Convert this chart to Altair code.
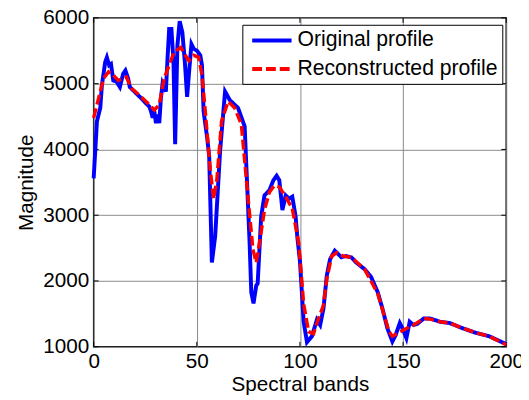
import altair as alt
import pandas as pd

# ---- data ----
orig_band = [0, 1.6, 3.2, 4, 5.6, 6.4, 7.5, 8.4, 9.5, 11.1, 12.7, 14.3, 15.4, 16.7, 17.5,
             20.7, 23, 25.4, 27, 27.8, 28.6, 29.4, 30.2, 31, 31.8, 32.6, 33.4, 35, 35.8,
             36.6, 37.7, 38.7, 39.5, 40.6, 41.7, 43, 44.2, 45.3, 46.4, 47.4, 48.5, 50.1,
             51.7, 52.5, 53.3, 55, 56, 57.3, 58.9, 61.3, 63.7, 66, 70, 73.2, 75.6, 76.4,
             77.5, 78.8, 79.5, 81.2, 82.8, 85.2, 87.1, 88.7, 90, 91.5, 93.1, 94.7, 96.3,
             97.9, 98.7, 100, 101.8, 103.4, 105.8, 108.2, 109.8, 111.4, 113, 114.6, 116.9,
             118.5, 120.1, 122.5, 124.9, 127.3, 131.3, 134.5, 137.7, 140, 142.4, 144.8,
             146.4, 148.4, 150, 151.6, 153.2, 155.1, 157, 160, 163.1, 167.9, 172.6, 179,
             185.4, 191.7, 200]
orig_val = [3560, 4430, 4630, 4980, 5330, 5400, 5280, 5300, 5050, 5030, 4950, 5150, 5200, 5080, 4950,
            4850, 4780, 4700, 4650, 4580, 4480, 4580, 4400, 4530, 4400, 4780, 5000, 4880, 5380,
            5830, 5830, 5330, 4080, 5580, 5950, 5780, 5330, 4800, 5230, 5600, 5530, 5500,
            5430, 5280, 4580, 4180, 3900, 2280, 2680, 3980, 4880, 4750, 4630, 4350, 2580, 1830,
            1660, 1930, 1960, 2980, 3300, 3380, 3530, 3600, 3530, 3080, 3300, 3250, 3280,
            2980, 2680, 2300, 1380, 1070, 1160, 1410, 1330, 1580, 2080, 2330, 2460,
            2410, 2360, 2380, 2360, 2280, 2180, 2060, 1830, 1580, 1280, 1080,
            1180, 1360, 1260, 1130, 1380, 1330, 1350, 1430, 1430, 1380, 1360, 1280,
            1210, 1160, 1040]

recon_band = [0, 2.4, 4.8, 7.2, 9.5, 11.9, 14.3, 15.9, 18.3, 23, 27, 29.4, 31.8, 34.2, 36.6,
              39, 42.2, 44.5, 46.1, 48.5, 50.9, 52.5, 54.1, 56.5, 58.1, 59.7, 62, 65.2, 68.4,
              71.6, 74.8, 77.2, 78.8, 80.4, 82.8, 85.2, 87.5, 90, 93.1, 96.3, 99.4, 101.8,
              104.2, 106.6, 109, 111.4, 113, 115.4, 117.8, 120.9, 124.9, 131.3, 137.7, 140.8,
              143.2, 144.8, 147.2, 150.4, 155.1, 160, 163.1, 167.9, 172.6, 179, 185.4, 191.7, 200]
recon_val = [4480, 4780, 5080, 5180, 5130, 5050, 5080, 5100, 4930, 4800, 4680, 4600, 4680, 5080, 5280,
             5480, 5550, 5430, 5350, 5430, 5400, 5130, 4580, 3700, 3250, 3530, 4430, 4730, 4630,
             4380, 3280, 2480, 2280, 2580, 3080, 3350, 3450, 3430, 3280, 3100, 2580, 1650,
             1230, 1200, 1430, 1630, 2030, 2380, 2430, 2380, 2360, 2180, 1810, 1480,
             1230, 1160, 1200, 1260, 1330, 1430, 1420, 1380, 1360, 1280, 1210, 1160, 1030]

series_names = ["Original profile", "Reconstructed profile"]
x_ticks = [0, 50, 100, 150, 200]
y_ticks = [1000, 2000, 3000, 4000, 5000, 6000]

df = pd.concat([
    pd.DataFrame({"band": orig_band, "value": orig_val, "series": series_names[0]}),
    pd.DataFrame({"band": recon_band, "value": recon_val, "series": series_names[1]}),
], ignore_index=True)

W, H = 419, 334
FONT = "Liberation Sans"

xscale = alt.Scale(domain=[0, 200], nice=False, zero=False)
yscale = alt.Scale(domain=[1000, 6000], nice=False, zero=False)

leg = alt.Legend(orient="none", legendX=151, legendY=7, title=None,
                 fillColor="white", strokeColor="black", padding=4,
                 symbolType="M-2,0L2,0", symbolSize=400, symbolStrokeWidth=4,
                 labelFontSize=21.5, labelFont=FONT, labelColor="black",
                 rowPadding=6, labelOffset=14, symbolOffset=14, labelLimit=400)

enc = dict(
    x=alt.X("band:Q", scale=xscale,
            axis=alt.Axis(values=x_ticks, format="d", title="Spectral bands", grid=True, domain=False,
                          ticks=False, labelFlush=False, labelPadding=4, titlePadding=2)),
    y=alt.Y("value:Q", scale=yscale,
            axis=alt.Axis(values=y_ticks, format="d", title="Magnitude", grid=True, domain=False,
                          ticks=False, labelPadding=5, titlePadding=6)),
    color=alt.Color("series:N", scale=alt.Scale(domain=series_names, range=["#0000ff", "#ff0000"]),
                    legend=leg),
    strokeDash=alt.StrokeDash("series:N", scale=alt.Scale(domain=series_names, range=[[1, 0], [10, 4]]),
                              legend=leg),
)

blue = alt.Chart(df).transform_filter(alt.datum.series == series_names[0]).mark_line(
    strokeWidth=4, interpolate="linear").encode(**enc)
red = alt.Chart(df).transform_filter(alt.datum.series == series_names[1]).mark_line(
    strokeWidth=3.5, interpolate="linear").encode(**enc)

xt = pd.DataFrame({"t": x_ticks})
yt = pd.DataFrame({"t": y_ticks})
tick_style = dict(color="black", strokeWidth=1)
xb = alt.Chart(xt).mark_rule(**tick_style).encode(x=alt.X("t:Q", scale=xscale), y=alt.value(H), y2=alt.value(H - 5))
xtop = alt.Chart(xt).mark_rule(**tick_style).encode(x=alt.X("t:Q", scale=xscale), y=alt.value(0), y2=alt.value(5))
yl = alt.Chart(yt).mark_rule(**tick_style).encode(y=alt.Y("t:Q", scale=yscale), x=alt.value(0), x2=alt.value(5))
yr = alt.Chart(yt).mark_rule(**tick_style).encode(y=alt.Y("t:Q", scale=yscale), x=alt.value(W), x2=alt.value(W - 5))

chart = alt.layer(xb, xtop, yl, yr, blue, red).properties(
    width=W, height=H,
    autosize=alt.AutoSizeParams(type="none"),
    padding={"left": 87, "top": 7, "right": 15, "bottom": 49},
    background="white",
).configure_view(
    stroke="black", strokeWidth=1.5
).configure_axis(
    labelFont=FONT, titleFont=FONT, labelFontSize=21, titleFontSize=21,
    labelColor="black", titleColor="black", titleFontWeight="normal",
    gridColor="#8a8a8a", gridWidth=1, gridOpacity=1,
).configure_legend(strokeWidth=1)

chart.save("out.html", embed_options={"renderer": "svg", "actions": False})
